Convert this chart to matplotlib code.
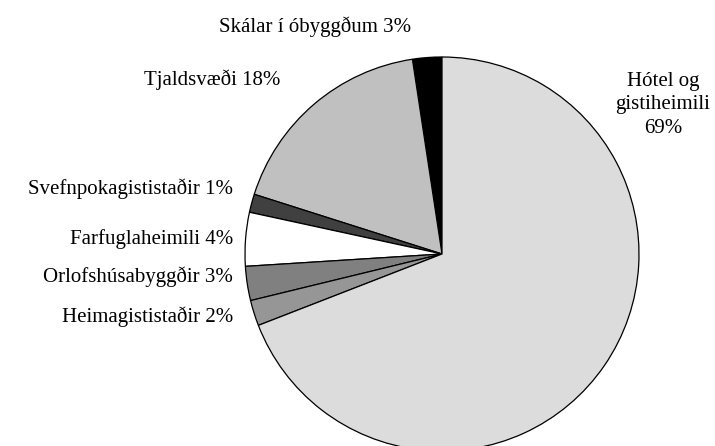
import matplotlib.pyplot as plt

# counterclockwise from 12 o'clock
categories = ["Skálar í óbyggðum", "Tjaldsvæði", "Svefnpokagististaðir",
              "Farfuglaheimili", "Orlofshúsabyggðir", "Heimagististaðir",
              "Hótel og gistiheimili"]
values = [2.4, 17.7, 1.5, 4.4, 2.8, 2.1, 69.1]
shown_pct = [3, 18, 1, 4, 3, 2, 69]
colors = ["#000000", "#c0c0c0", "#404040", "#ffffff", "#808080", "#969696", "#dcdcdc"]

W, H = 715, 446
fig = plt.figure(figsize=(W / 100, H / 100), dpi=100)
cx, cy, r = 442, 254, 197
ax = fig.add_axes([(cx - r) / W, (H - cy - r) / H, 2 * r / W, 2 * r / H])
ax.pie(values, colors=colors, startangle=90, counterclock=True,
       wedgeprops=dict(edgecolor="black", linewidth=0.9))
ax.set_xlim(-1, 1)
ax.set_ylim(-1, 1)
ax.axis("off")

font = dict(family="Liberation Serif", fontsize=15)

def label(x, y, s, ha="right"):
    fig.text(x / W, 1 - y / H, s, ha=ha, va="center", linespacing=1.35, **font)

label(315, 27, f"{categories[0]} {shown_pct[0]}%", ha="center")
label(280, 80, f"{categories[1]} {shown_pct[1]}%")
label(233, 189, f"{categories[2]} {shown_pct[2]}%")
label(233, 239, f"{categories[3]} {shown_pct[3]}%")
label(233, 277, f"{categories[4]} {shown_pct[4]}%")
label(233, 317, f"{categories[5]} {shown_pct[5]}%")
label(663, 105, f"Hótel og\ngistiheimili\n{shown_pct[6]}%", ha="center")

fig.savefig("out.png", dpi=100)
